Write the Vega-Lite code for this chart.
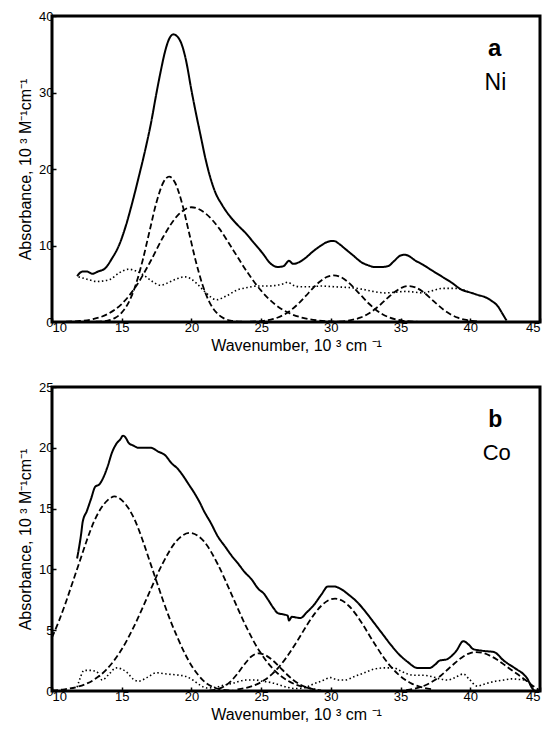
{
  "$schema": "https://vega.github.io/schema/vega-lite/v6.json",
  "padding": {"left": 16, "top": 8, "right": 2, "bottom": 5},
  "spacing": 24,
  "config": {
    "font": "Liberation Sans",
    "view": {"stroke": "black", "strokeWidth": 3},
    "axis": {"domain": false, "grid": false, "tickColor": "black", "tickSize": -4, "tickWidth": 1.5, "labelColor": "black", "labelFont": "Liberation Sans", "labelFontSize": 13, "labelPadding": 3, "titleFont": "Liberation Sans", "titleFontWeight": "normal", "titleColor": "black", "titleFontSize": 16},
    "axisX": {"titlePadding": 3},
    "axisY": {"titlePadding": 5}
  },
  "datasets": {
    "ni": [
      {"s":"tot","t":"solid","w":11.8,"a":6.0},{"s":"tot","t":"solid","w":12.2,"a":6.6},{"s":"tot","t":"solid","w":12.5,"a":6.6},{"s":"tot","t":"solid","w":12.9,"a":6.3},{"s":"tot","t":"solid","w":13.3,"a":6.6},{"s":"tot","t":"solid","w":13.8,"a":7.0},{"s":"tot","t":"solid","w":14.3,"a":8.3},{"s":"tot","t":"solid","w":14.8,"a":10.0},{"s":"tot","t":"solid","w":15.3,"a":12.6},{"s":"tot","t":"solid","w":15.7,"a":15.2},{"s":"tot","t":"solid","w":16.2,"a":18.8},{"s":"tot","t":"solid","w":16.7,"a":22.6},{"s":"tot","t":"solid","w":17.1,"a":26.0},{"s":"tot","t":"solid","w":17.5,"a":30.0},{"s":"tot","t":"solid","w":17.8,"a":32.8},{"s":"tot","t":"solid","w":18.1,"a":35.3},{"s":"tot","t":"solid","w":18.4,"a":37.0},{"s":"tot","t":"solid","w":18.7,"a":37.6},{"s":"tot","t":"solid","w":19.0,"a":37.3},{"s":"tot","t":"solid","w":19.3,"a":36.3},{"s":"tot","t":"solid","w":19.6,"a":34.3},{"s":"tot","t":"solid","w":20.0,"a":30.3},{"s":"tot","t":"solid","w":20.3,"a":27.5},{"s":"tot","t":"solid","w":20.7,"a":24.0},{"s":"tot","t":"solid","w":21.0,"a":21.4},{"s":"tot","t":"solid","w":21.4,"a":18.6},{"s":"tot","t":"solid","w":21.7,"a":17.0},{"s":"tot","t":"solid","w":22.2,"a":15.3},{"s":"tot","t":"solid","w":22.6,"a":14.2},{"s":"tot","t":"solid","w":23.2,"a":12.9},{"s":"tot","t":"solid","w":23.9,"a":11.6},{"s":"tot","t":"solid","w":24.5,"a":10.3},{"s":"tot","t":"solid","w":25.1,"a":9.0},{"s":"tot","t":"solid","w":25.7,"a":7.6},{"s":"tot","t":"solid","w":26.2,"a":7.2},{"s":"tot","t":"solid","w":26.6,"a":7.3},{"s":"tot","t":"solid","w":27.0,"a":8.0},{"s":"tot","t":"solid","w":27.3,"a":7.6},{"s":"tot","t":"solid","w":27.7,"a":7.8},{"s":"tot","t":"solid","w":28.2,"a":8.4},{"s":"tot","t":"solid","w":28.7,"a":9.2},{"s":"tot","t":"solid","w":29.3,"a":10.0},{"s":"tot","t":"solid","w":29.8,"a":10.5},{"s":"tot","t":"solid","w":30.2,"a":10.6},{"s":"tot","t":"solid","w":30.6,"a":10.2},{"s":"tot","t":"solid","w":31.0,"a":9.6},{"s":"tot","t":"solid","w":31.6,"a":8.7},{"s":"tot","t":"solid","w":32.2,"a":7.8},{"s":"tot","t":"solid","w":32.7,"a":7.4},{"s":"tot","t":"solid","w":33.1,"a":7.2},{"s":"tot","t":"solid","w":33.7,"a":7.2},{"s":"tot","t":"solid","w":34.1,"a":7.3},{"s":"tot","t":"solid","w":34.5,"a":7.9},{"s":"tot","t":"solid","w":35.0,"a":8.7},{"s":"tot","t":"solid","w":35.3,"a":8.8},{"s":"tot","t":"solid","w":35.7,"a":8.5},{"s":"tot","t":"solid","w":36.0,"a":8.1},{"s":"tot","t":"solid","w":36.6,"a":7.5},{"s":"tot","t":"solid","w":37.2,"a":6.8},{"s":"tot","t":"solid","w":38.0,"a":5.9},{"s":"tot","t":"solid","w":38.7,"a":5.1},{"s":"tot","t":"solid","w":39.3,"a":4.3},{"s":"tot","t":"solid","w":40.1,"a":3.8},{"s":"tot","t":"solid","w":40.6,"a":3.5},{"s":"tot","t":"solid","w":41.0,"a":3.3},{"s":"tot","t":"solid","w":41.5,"a":2.8},{"s":"tot","t":"solid","w":42.0,"a":2.0},{"s":"tot","t":"solid","w":42.3,"a":1.1},{"s":"tot","t":"solid","w":42.6,"a":0.2},
      {"s":"c1","t":"dash","w":12.5,"a":0.0},{"s":"c1","t":"dash","w":13.0,"a":0.02},{"s":"c1","t":"dash","w":14.0,"a":0.19},{"s":"c1","t":"dash","w":14.5,"a":0.51},{"s":"c1","t":"dash","w":15.0,"a":1.22},{"s":"c1","t":"dash","w":15.5,"a":2.57},{"s":"c1","t":"dash","w":16.0,"a":4.83},{"s":"c1","t":"dash","w":16.5,"a":8.05},{"s":"c1","t":"dash","w":17.0,"a":11.9},{"s":"c1","t":"dash","w":17.5,"a":15.7},{"s":"c1","t":"dash","w":18.0,"a":18.3},{"s":"c1","t":"dash","w":18.4,"a":19.0},{"s":"c1","t":"dash","w":18.8,"a":18.3},{"s":"c1","t":"dash","w":19.3,"a":15.7},{"s":"c1","t":"dash","w":19.8,"a":11.9},{"s":"c1","t":"dash","w":20.3,"a":8.05},{"s":"c1","t":"dash","w":20.8,"a":4.83},{"s":"c1","t":"dash","w":21.3,"a":2.57},{"s":"c1","t":"dash","w":21.8,"a":1.22},{"s":"c1","t":"dash","w":22.3,"a":0.51},{"s":"c1","t":"dash","w":22.8,"a":0.19},{"s":"c1","t":"dash","w":23.8,"a":0.02},{"s":"c1","t":"dash","w":24.5,"a":0.0},
      {"s":"c2","t":"dash","w":11.0,"a":0.04},{"s":"c2","t":"dash","w":12.0,"a":0.13},{"s":"c2","t":"dash","w":13.0,"a":0.40},{"s":"c2","t":"dash","w":14.0,"a":1.05},{"s":"c2","t":"dash","w":15.0,"a":2.36},{"s":"c2","t":"dash","w":16.0,"a":4.6},{"s":"c2","t":"dash","w":17.0,"a":7.71},{"s":"c2","t":"dash","w":18.0,"a":11.2},{"s":"c2","t":"dash","w":19.0,"a":13.9},{"s":"c2","t":"dash","w":20.0,"a":15.0},{"s":"c2","t":"dash","w":21.0,"a":14.2},{"s":"c2","t":"dash","w":22.0,"a":12.2},{"s":"c2","t":"dash","w":23.0,"a":9.39},{"s":"c2","t":"dash","w":24.0,"a":6.53},{"s":"c2","t":"dash","w":25.0,"a":4.09},{"s":"c2","t":"dash","w":26.0,"a":2.3},{"s":"c2","t":"dash","w":27.0,"a":1.17},{"s":"c2","t":"dash","w":28.0,"a":0.54},{"s":"c2","t":"dash","w":29.0,"a":0.22},{"s":"c2","t":"dash","w":30.0,"a":0.08},{"s":"c2","t":"dash","w":31.0,"a":0.02},
      {"s":"c3","t":"dash","w":24.2,"a":0.03},{"s":"c3","t":"dash","w":25.2,"a":0.16},{"s":"c3","t":"dash","w":25.7,"a":0.32},{"s":"c3","t":"dash","w":26.2,"a":0.59},{"s":"c3","t":"dash","w":26.7,"a":1.02},{"s":"c3","t":"dash","w":27.2,"a":1.64},{"s":"c3","t":"dash","w":27.7,"a":2.45},{"s":"c3","t":"dash","w":28.2,"a":3.4},{"s":"c3","t":"dash","w":28.7,"a":4.39},{"s":"c3","t":"dash","w":29.2,"a":5.27},{"s":"c3","t":"dash","w":29.7,"a":5.88},{"s":"c3","t":"dash","w":30.2,"a":6.1},{"s":"c3","t":"dash","w":30.7,"a":5.88},{"s":"c3","t":"dash","w":31.2,"a":5.27},{"s":"c3","t":"dash","w":31.7,"a":4.39},{"s":"c3","t":"dash","w":32.2,"a":3.4},{"s":"c3","t":"dash","w":32.7,"a":2.45},{"s":"c3","t":"dash","w":33.2,"a":1.64},{"s":"c3","t":"dash","w":33.7,"a":1.02},{"s":"c3","t":"dash","w":34.2,"a":0.59},{"s":"c3","t":"dash","w":34.7,"a":0.32},{"s":"c3","t":"dash","w":35.2,"a":0.16},{"s":"c3","t":"dash","w":36.2,"a":0.03},
      {"s":"c4","t":"dash","w":30.6,"a":0.06},{"s":"c4","t":"dash","w":31.1,"a":0.14},{"s":"c4","t":"dash","w":31.6,"a":0.3},{"s":"c4","t":"dash","w":32.1,"a":0.56},{"s":"c4","t":"dash","w":32.6,"a":0.99},{"s":"c4","t":"dash","w":33.1,"a":1.59},{"s":"c4","t":"dash","w":33.6,"a":2.35},{"s":"c4","t":"dash","w":34.1,"a":3.19},{"s":"c4","t":"dash","w":34.6,"a":3.95},{"s":"c4","t":"dash","w":35.1,"a":4.5},{"s":"c4","t":"dash","w":35.6,"a":4.7},{"s":"c4","t":"dash","w":36.1,"a":4.5},{"s":"c4","t":"dash","w":36.6,"a":3.95},{"s":"c4","t":"dash","w":37.1,"a":3.19},{"s":"c4","t":"dash","w":37.6,"a":2.35},{"s":"c4","t":"dash","w":38.1,"a":1.59},{"s":"c4","t":"dash","w":38.6,"a":0.99},{"s":"c4","t":"dash","w":39.1,"a":0.56},{"s":"c4","t":"dash","w":39.6,"a":0.3},{"s":"c4","t":"dash","w":40.1,"a":0.14},{"s":"c4","t":"dash","w":40.6,"a":0.06},
      {"s":"res","t":"dot","w":11.9,"a":5.9},{"s":"res","t":"dot","w":12.5,"a":5.6},{"s":"res","t":"dot","w":13.2,"a":5.3},{"s":"res","t":"dot","w":13.8,"a":5.4},{"s":"res","t":"dot","w":14.2,"a":5.6},{"s":"res","t":"dot","w":14.8,"a":6.4},{"s":"res","t":"dot","w":15.5,"a":6.9},{"s":"res","t":"dot","w":16.0,"a":6.7},{"s":"res","t":"dot","w":16.6,"a":6.1},{"s":"res","t":"dot","w":17.2,"a":5.3},{"s":"res","t":"dot","w":17.8,"a":4.8},{"s":"res","t":"dot","w":18.4,"a":5.2},{"s":"res","t":"dot","w":18.9,"a":5.6},{"s":"res","t":"dot","w":19.5,"a":5.9},{"s":"res","t":"dot","w":20.0,"a":5.6},{"s":"res","t":"dot","w":20.4,"a":5.0},{"s":"res","t":"dot","w":21.0,"a":3.9},{"s":"res","t":"dot","w":21.8,"a":2.9},{"s":"res","t":"dot","w":22.5,"a":3.4},{"s":"res","t":"dot","w":23.3,"a":4.2},{"s":"res","t":"dot","w":24.0,"a":4.5},{"s":"res","t":"dot","w":24.7,"a":4.7},{"s":"res","t":"dot","w":25.5,"a":4.7},{"s":"res","t":"dot","w":26.1,"a":4.8},{"s":"res","t":"dot","w":26.6,"a":5.0},{"s":"res","t":"dot","w":26.9,"a":5.2},{"s":"res","t":"dot","w":27.3,"a":4.8},{"s":"res","t":"dot","w":27.8,"a":4.6},{"s":"res","t":"dot","w":28.5,"a":4.6},{"s":"res","t":"dot","w":29.3,"a":4.7},{"s":"res","t":"dot","w":30.3,"a":4.6},{"s":"res","t":"dot","w":31.3,"a":4.5},{"s":"res","t":"dot","w":32.2,"a":4.3},{"s":"res","t":"dot","w":33.0,"a":4.0},{"s":"res","t":"dot","w":33.9,"a":3.8},{"s":"res","t":"dot","w":34.6,"a":3.9},{"s":"res","t":"dot","w":35.4,"a":4.0},{"s":"res","t":"dot","w":36.0,"a":3.9},{"s":"res","t":"dot","w":36.6,"a":3.8},{"s":"res","t":"dot","w":37.3,"a":4.1},{"s":"res","t":"dot","w":38.0,"a":4.4},{"s":"res","t":"dot","w":39.0,"a":4.4},{"s":"res","t":"dot","w":39.9,"a":3.9}
    ],
    "co": [
      {"s":"tot","t":"solid","w":11.8,"a":10.9},{"s":"tot","t":"solid","w":12.1,"a":13.0},{"s":"tot","t":"solid","w":12.2,"a":13.9},{"s":"tot","t":"solid","w":12.5,"a":14.8},{"s":"tot","t":"solid","w":12.8,"a":15.8},{"s":"tot","t":"solid","w":13.1,"a":16.8},{"s":"tot","t":"solid","w":13.4,"a":17.0},{"s":"tot","t":"solid","w":13.7,"a":17.6},{"s":"tot","t":"solid","w":14.0,"a":18.5},{"s":"tot","t":"solid","w":14.3,"a":19.6},{"s":"tot","t":"solid","w":14.6,"a":20.3},{"s":"tot","t":"solid","w":14.9,"a":20.7},{"s":"tot","t":"solid","w":15.1,"a":21.0},{"s":"tot","t":"solid","w":15.3,"a":20.8},{"s":"tot","t":"solid","w":15.5,"a":20.4},{"s":"tot","t":"solid","w":15.8,"a":20.2},{"s":"tot","t":"solid","w":16.2,"a":20.0},{"s":"tot","t":"solid","w":16.7,"a":20.0},{"s":"tot","t":"solid","w":17.1,"a":20.0},{"s":"tot","t":"solid","w":17.6,"a":19.7},{"s":"tot","t":"solid","w":18.1,"a":19.4},{"s":"tot","t":"solid","w":18.6,"a":18.7},{"s":"tot","t":"solid","w":19.0,"a":18.3},{"s":"tot","t":"solid","w":19.4,"a":17.7},{"s":"tot","t":"solid","w":19.8,"a":17.0},{"s":"tot","t":"solid","w":20.2,"a":16.3},{"s":"tot","t":"solid","w":20.6,"a":15.5},{"s":"tot","t":"solid","w":20.9,"a":14.8},{"s":"tot","t":"solid","w":21.4,"a":13.8},{"s":"tot","t":"solid","w":21.9,"a":12.7},{"s":"tot","t":"solid","w":22.4,"a":11.9},{"s":"tot","t":"solid","w":22.9,"a":11.1},{"s":"tot","t":"solid","w":23.4,"a":10.4},{"s":"tot","t":"solid","w":23.8,"a":9.8},{"s":"tot","t":"solid","w":24.3,"a":9.2},{"s":"tot","t":"solid","w":24.8,"a":8.4},{"s":"tot","t":"solid","w":25.2,"a":8.0},{"s":"tot","t":"solid","w":25.5,"a":7.5},{"s":"tot","t":"solid","w":25.9,"a":6.8},{"s":"tot","t":"solid","w":26.2,"a":6.4},{"s":"tot","t":"solid","w":26.6,"a":6.3},{"s":"tot","t":"solid","w":26.9,"a":6.2},{"s":"tot","t":"solid","w":27.0,"a":5.8},{"s":"tot","t":"solid","w":27.2,"a":6.1},{"s":"tot","t":"solid","w":27.8,"a":6.0},{"s":"tot","t":"solid","w":28.3,"a":6.5},{"s":"tot","t":"solid","w":28.8,"a":7.1},{"s":"tot","t":"solid","w":29.3,"a":7.9},{"s":"tot","t":"solid","w":29.8,"a":8.6},{"s":"tot","t":"solid","w":30.2,"a":8.6},{"s":"tot","t":"solid","w":30.7,"a":8.4},{"s":"tot","t":"solid","w":31.3,"a":7.9},{"s":"tot","t":"solid","w":31.9,"a":7.3},{"s":"tot","t":"solid","w":32.5,"a":6.5},{"s":"tot","t":"solid","w":33.1,"a":5.6},{"s":"tot","t":"solid","w":33.7,"a":4.7},{"s":"tot","t":"solid","w":34.3,"a":3.8},{"s":"tot","t":"solid","w":34.9,"a":3.0},{"s":"tot","t":"solid","w":35.5,"a":2.4},{"s":"tot","t":"solid","w":36.2,"a":1.9},{"s":"tot","t":"solid","w":37.1,"a":1.9},{"s":"tot","t":"solid","w":37.5,"a":2.2},{"s":"tot","t":"solid","w":37.8,"a":2.5},{"s":"tot","t":"solid","w":38.3,"a":2.6},{"s":"tot","t":"solid","w":39.0,"a":3.3},{"s":"tot","t":"solid","w":39.5,"a":4.1},{"s":"tot","t":"solid","w":39.9,"a":3.8},{"s":"tot","t":"solid","w":40.2,"a":3.45},{"s":"tot","t":"solid","w":40.9,"a":3.3},{"s":"tot","t":"solid","w":41.7,"a":3.2},{"s":"tot","t":"solid","w":42.4,"a":2.5},{"s":"tot","t":"solid","w":43.3,"a":1.8},{"s":"tot","t":"solid","w":43.8,"a":1.4},{"s":"tot","t":"solid","w":44.1,"a":1.0},{"s":"tot","t":"solid","w":44.4,"a":0.3},{"s":"tot","t":"solid","w":44.6,"a":0.0},
      {"s":"c1","t":"dash","w":10.0,"a":4.4},{"s":"c1","t":"dash","w":10.5,"a":5.77},{"s":"c1","t":"dash","w":11.0,"a":7.32},{"s":"c1","t":"dash","w":11.5,"a":9.01},{"s":"c1","t":"dash","w":12.0,"a":10.7},{"s":"c1","t":"dash","w":12.5,"a":12.4},{"s":"c1","t":"dash","w":13.0,"a":13.9},{"s":"c1","t":"dash","w":13.5,"a":15.0},{"s":"c1","t":"dash","w":14.0,"a":15.7},{"s":"c1","t":"dash","w":14.5,"a":16.0},{"s":"c1","t":"dash","w":15.0,"a":15.7},{"s":"c1","t":"dash","w":15.5,"a":15.0},{"s":"c1","t":"dash","w":16.0,"a":13.9},{"s":"c1","t":"dash","w":16.5,"a":12.4},{"s":"c1","t":"dash","w":17.0,"a":10.7},{"s":"c1","t":"dash","w":17.5,"a":9.01},{"s":"c1","t":"dash","w":18.0,"a":7.32},{"s":"c1","t":"dash","w":18.5,"a":5.77},{"s":"c1","t":"dash","w":19.0,"a":4.4},{"s":"c1","t":"dash","w":19.5,"a":3.15},{"s":"c1","t":"dash","w":20.0,"a":2.1},{"s":"c1","t":"dash","w":20.5,"a":1.3},{"s":"c1","t":"dash","w":21.0,"a":0.7},{"s":"c1","t":"dash","w":21.5,"a":0.35},{"s":"c1","t":"dash","w":22.0,"a":0.15},{"s":"c1","t":"dash","w":23.0,"a":0.03},
      {"s":"c2","t":"dash","w":10.0,"a":0.04},{"s":"c2","t":"dash","w":10.9,"a":0.14},{"s":"c2","t":"dash","w":11.9,"a":0.37},{"s":"c2","t":"dash","w":12.9,"a":0.85},{"s":"c2","t":"dash","w":13.9,"a":1.76},{"s":"c2","t":"dash","w":14.9,"a":3.24},{"s":"c2","t":"dash","w":15.9,"a":5.35},{"s":"c2","t":"dash","w":16.9,"a":7.89},{"s":"c2","t":"dash","w":17.9,"a":10.4},{"s":"c2","t":"dash","w":18.9,"a":12.3},{"s":"c2","t":"dash","w":19.9,"a":13.0},{"s":"c2","t":"dash","w":20.9,"a":12.3},{"s":"c2","t":"dash","w":21.9,"a":10.4},{"s":"c2","t":"dash","w":22.9,"a":7.89},{"s":"c2","t":"dash","w":23.9,"a":5.35},{"s":"c2","t":"dash","w":24.9,"a":3.24},{"s":"c2","t":"dash","w":25.9,"a":1.76},{"s":"c2","t":"dash","w":26.9,"a":0.85},{"s":"c2","t":"dash","w":27.9,"a":0.37},{"s":"c2","t":"dash","w":28.9,"a":0.14},
      {"s":"c3","t":"dash","w":21.3,"a":0.04},{"s":"c3","t":"dash","w":21.8,"a":0.14},{"s":"c3","t":"dash","w":22.3,"a":0.35},{"s":"c3","t":"dash","w":22.8,"a":0.77},{"s":"c3","t":"dash","w":23.3,"a":1.42},{"s":"c3","t":"dash","w":23.8,"a":2.19},{"s":"c3","t":"dash","w":24.3,"a":2.84},{"s":"c3","t":"dash","w":24.8,"a":3.1},{"s":"c3","t":"dash","w":25.3,"a":2.95},{"s":"c3","t":"dash","w":25.8,"a":2.55},{"s":"c3","t":"dash","w":26.3,"a":2.0},{"s":"c3","t":"dash","w":26.8,"a":1.42},{"s":"c3","t":"dash","w":27.3,"a":0.91},{"s":"c3","t":"dash","w":27.8,"a":0.53},{"s":"c3","t":"dash","w":28.3,"a":0.28},{"s":"c3","t":"dash","w":28.8,"a":0.14},{"s":"c3","t":"dash","w":29.3,"a":0.06},
      {"s":"c4","t":"dash","w":23.3,"a":0.13},{"s":"c4","t":"dash","w":24.3,"a":0.38},{"s":"c4","t":"dash","w":24.8,"a":0.61},{"s":"c4","t":"dash","w":25.3,"a":0.95},{"s":"c4","t":"dash","w":25.8,"a":1.41},{"s":"c4","t":"dash","w":26.3,"a":2.0},{"s":"c4","t":"dash","w":26.8,"a":2.74},{"s":"c4","t":"dash","w":27.3,"a":3.59},{"s":"c4","t":"dash","w":27.8,"a":4.51},{"s":"c4","t":"dash","w":28.3,"a":5.45},{"s":"c4","t":"dash","w":28.8,"a":6.3},{"s":"c4","t":"dash","w":29.3,"a":6.99},{"s":"c4","t":"dash","w":29.8,"a":7.44},{"s":"c4","t":"dash","w":30.3,"a":7.6},{"s":"c4","t":"dash","w":30.8,"a":7.44},{"s":"c4","t":"dash","w":31.3,"a":6.99},{"s":"c4","t":"dash","w":31.8,"a":6.3},{"s":"c4","t":"dash","w":32.3,"a":5.45},{"s":"c4","t":"dash","w":32.8,"a":4.51},{"s":"c4","t":"dash","w":33.3,"a":3.59},{"s":"c4","t":"dash","w":33.8,"a":2.74},{"s":"c4","t":"dash","w":34.3,"a":2.0},{"s":"c4","t":"dash","w":34.8,"a":1.41},{"s":"c4","t":"dash","w":35.3,"a":0.95},{"s":"c4","t":"dash","w":35.8,"a":0.61},{"s":"c4","t":"dash","w":36.3,"a":0.38},{"s":"c4","t":"dash","w":37.3,"a":0.13},
      {"s":"c5","t":"dash","w":35.4,"a":0.08},{"s":"c5","t":"dash","w":36.4,"a":0.31},{"s":"c5","t":"dash","w":36.9,"a":0.53},{"s":"c5","t":"dash","w":37.4,"a":0.86},{"s":"c5","t":"dash","w":37.9,"a":1.28},{"s":"c5","t":"dash","w":38.4,"a":1.79},{"s":"c5","t":"dash","w":38.9,"a":2.3},{"s":"c5","t":"dash","w":39.4,"a":2.76},{"s":"c5","t":"dash","w":39.9,"a":3.08},{"s":"c5","t":"dash","w":40.4,"a":3.2},{"s":"c5","t":"dash","w":40.9,"a":3.13},{"s":"c5","t":"dash","w":41.4,"a":2.91},{"s":"c5","t":"dash","w":41.9,"a":2.59},{"s":"c5","t":"dash","w":42.4,"a":2.19},{"s":"c5","t":"dash","w":42.9,"a":1.77},{"s":"c5","t":"dash","w":43.4,"a":1.37},{"s":"c5","t":"dash","w":43.9,"a":0.95},{"s":"c5","t":"dash","w":44.4,"a":0.5},{"s":"c5","t":"dash","w":44.9,"a":0.1},
      {"s":"res","t":"dot","w":11.8,"a":0.3},{"s":"res","t":"dot","w":12.0,"a":1.0},{"s":"res","t":"dot","w":12.3,"a":1.7},{"s":"res","t":"dot","w":12.7,"a":1.7},{"s":"res","t":"dot","w":13.2,"a":1.6},{"s":"res","t":"dot","w":13.6,"a":0.9},{"s":"res","t":"dot","w":14.1,"a":1.4},{"s":"res","t":"dot","w":14.6,"a":1.9},{"s":"res","t":"dot","w":15.0,"a":1.8},{"s":"res","t":"dot","w":15.4,"a":1.5},{"s":"res","t":"dot","w":15.8,"a":1.0},{"s":"res","t":"dot","w":16.2,"a":0.8},{"s":"res","t":"dot","w":16.8,"a":1.1},{"s":"res","t":"dot","w":17.5,"a":1.5},{"s":"res","t":"dot","w":18.2,"a":1.4},{"s":"res","t":"dot","w":19.1,"a":1.3},{"s":"res","t":"dot","w":19.6,"a":1.2},{"s":"res","t":"dot","w":20.1,"a":0.9},{"s":"res","t":"dot","w":20.6,"a":0.5},{"s":"res","t":"dot","w":21.1,"a":0.25},{"s":"res","t":"dot","w":21.7,"a":0.3},{"s":"res","t":"dot","w":22.4,"a":0.5},{"s":"res","t":"dot","w":23.0,"a":0.65},{"s":"res","t":"dot","w":23.9,"a":0.9},{"s":"res","t":"dot","w":24.6,"a":0.9},{"s":"res","t":"dot","w":25.1,"a":0.8},{"s":"res","t":"dot","w":25.7,"a":0.7},{"s":"res","t":"dot","w":26.3,"a":0.5},{"s":"res","t":"dot","w":26.9,"a":0.3},{"s":"res","t":"dot","w":27.5,"a":0.2},{"s":"res","t":"dot","w":28.2,"a":0.3},{"s":"res","t":"dot","w":28.8,"a":0.6},{"s":"res","t":"dot","w":29.3,"a":0.8},{"s":"res","t":"dot","w":30.0,"a":1.1},{"s":"res","t":"dot","w":30.5,"a":0.9},{"s":"res","t":"dot","w":31.0,"a":0.9},{"s":"res","t":"dot","w":31.7,"a":1.2},{"s":"res","t":"dot","w":32.4,"a":1.5},{"s":"res","t":"dot","w":33.1,"a":1.8},{"s":"res","t":"dot","w":33.9,"a":1.9},{"s":"res","t":"dot","w":34.5,"a":1.9},{"s":"res","t":"dot","w":34.9,"a":1.7},{"s":"res","t":"dot","w":35.5,"a":1.4},{"s":"res","t":"dot","w":36.0,"a":1.3},{"s":"res","t":"dot","w":36.6,"a":1.3},{"s":"res","t":"dot","w":37.2,"a":1.2},{"s":"res","t":"dot","w":37.8,"a":1.0},{"s":"res","t":"dot","w":38.4,"a":0.9},{"s":"res","t":"dot","w":38.9,"a":1.1},{"s":"res","t":"dot","w":39.5,"a":1.4},{"s":"res","t":"dot","w":39.9,"a":1.0},{"s":"res","t":"dot","w":40.5,"a":0.4},{"s":"res","t":"dot","w":41.1,"a":0.6},{"s":"res","t":"dot","w":41.8,"a":0.8},{"s":"res","t":"dot","w":42.4,"a":0.9},{"s":"res","t":"dot","w":43.0,"a":1.0},{"s":"res","t":"dot","w":43.5,"a":0.95},{"s":"res","t":"dot","w":43.9,"a":0.9},{"s":"res","t":"dot","w":44.3,"a":0.6},{"s":"res","t":"dot","w":44.6,"a":0.2}
    ]
  },
  "vconcat": [
    {
      "width": 488,
      "height": 306,
      "layer": [
        {
          "data": {"name": "ni"},
          "mark": {"type": "line", "color": "black", "interpolate": "monotone"},
          "encoding": {
            "x": {"field": "w", "type": "quantitative", "scale": {"domain": [10, 45], "nice": false}, "axis": {"values": [10, 15, 20, 25, 30, 35, 40, 45], "title": "Wavenumber, 10 ³ cm ⁻¹"}},
            "y": {"field": "a", "type": "quantitative", "scale": {"domain": [0, 40], "nice": false}, "axis": {"values": [0, 10, 20, 30, 40], "title": "Absorbance, 10 ³ M⁻¹cm⁻¹"}},
            "detail": {"field": "s"},
            "strokeDash": {"field": "t", "type": "nominal", "scale": {"domain": ["solid", "dash", "dot"], "range": [[1, 0], [6, 3], [1.5, 2.5]]}, "legend": null},
            "strokeWidth": {"field": "t", "type": "nominal", "scale": {"domain": ["solid", "dash", "dot"], "range": [2, 1.6, 1.6]}, "legend": null}
          }
        },
        {
          "data": {"values": [{"lab": "a", "w": 41.75, "a": 35.7}]},
          "mark": {"type": "text", "font": "Liberation Sans", "fontSize": 24, "fontWeight": "bold", "color": "black", "baseline": "middle", "align": "center"},
          "encoding": {"x": {"field": "w", "type": "quantitative"}, "y": {"field": "a", "type": "quantitative"}, "text": {"field": "lab"}}
        },
        {
          "data": {"values": [{"lab": "Ni", "w": 41.8, "a": 31.3}]},
          "mark": {"type": "text", "font": "Liberation Sans", "fontSize": 23, "color": "black", "baseline": "middle", "align": "center"},
          "encoding": {"x": {"field": "w", "type": "quantitative"}, "y": {"field": "a", "type": "quantitative"}, "text": {"field": "lab"}}
        }
      ]
    },
    {
      "width": 488,
      "height": 304,
      "layer": [
        {
          "data": {"name": "co"},
          "mark": {"type": "line", "color": "black", "interpolate": "monotone"},
          "encoding": {
            "x": {"field": "w", "type": "quantitative", "scale": {"domain": [10, 45], "nice": false}, "axis": {"values": [10, 15, 20, 25, 30, 35, 40, 45], "title": "Wavenumber, 10 ³ cm ⁻¹"}},
            "y": {"field": "a", "type": "quantitative", "scale": {"domain": [0, 25], "nice": false}, "axis": {"values": [0, 5, 10, 15, 20, 25], "title": "Absorbance, 10 ³ M⁻¹cm⁻¹"}},
            "detail": {"field": "s"},
            "strokeDash": {"field": "t", "type": "nominal", "scale": {"domain": ["solid", "dash", "dot"], "range": [[1, 0], [6, 3], [1.5, 2.5]]}, "legend": null},
            "strokeWidth": {"field": "t", "type": "nominal", "scale": {"domain": ["solid", "dash", "dot"], "range": [2, 1.6, 1.6]}, "legend": null}
          }
        },
        {
          "data": {"values": [{"lab": "b", "w": 41.8, "a": 22.3}]},
          "mark": {"type": "text", "font": "Liberation Sans", "fontSize": 23, "fontWeight": "bold", "color": "black", "baseline": "middle", "align": "center"},
          "encoding": {"x": {"field": "w", "type": "quantitative"}, "y": {"field": "a", "type": "quantitative"}, "text": {"field": "lab"}}
        },
        {
          "data": {"values": [{"lab": "Co", "w": 41.9, "a": 19.6}]},
          "mark": {"type": "text", "font": "Liberation Sans", "fontSize": 22, "color": "black", "baseline": "middle", "align": "center"},
          "encoding": {"x": {"field": "w", "type": "quantitative"}, "y": {"field": "a", "type": "quantitative"}, "text": {"field": "lab"}}
        }
      ]
    }
  ]
}
